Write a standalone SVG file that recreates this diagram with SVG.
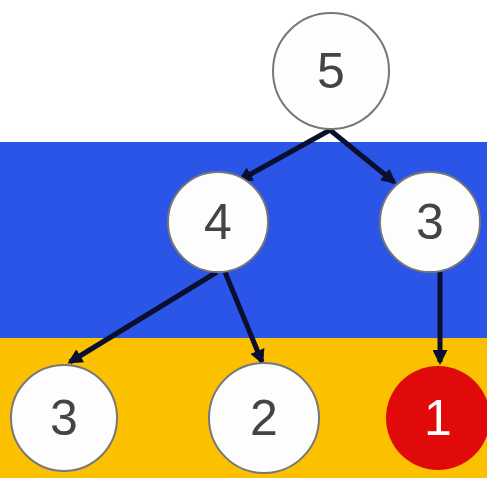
<svg xmlns="http://www.w3.org/2000/svg" width="487" height="478" viewBox="0 0 487 478">
<style>
.n{fill:#fdfdfd;stroke:#777;stroke-width:2}
.t{font-family:"Liberation Sans",Arial,sans-serif;font-size:50px;fill:#444;text-anchor:middle;dominant-baseline:central}
.e{stroke:#0a0f30;stroke-width:5;fill:none;marker-end:url(#a)}
</style>
<defs>
<marker id="a" viewBox="0 0 10 10" refX="8" refY="5" markerWidth="3" markerHeight="3" orient="auto">
<path d="M0,0L10,5L0,10z" fill="#0a0f30"/>
</marker>
</defs>
<rect x="0" y="0" width="487" height="142" fill="#fff"/>
<rect x="0" y="142" width="487" height="196" fill="#2b55e6"/>
<rect x="0" y="338" width="487" height="140" fill="#fbc000"/>
<g id="edges">
<path class="e" d="M330,130L240,180"/>
<path class="e" d="M330,130L394,182"/>
<path class="e" d="M217,272L70,362"/>
<path class="e" d="M225,272L262,362"/>
<path class="e" d="M440,272L440,362"/>
</g>
<g id="n5"><circle class="n" cx="331" cy="71" r="58"/><text class="t" x="331" y="71">5</text></g>
<g id="n4"><circle class="n" cx="218" cy="222" r="50"/><text class="t" x="218" y="222">4</text></g>
<g id="n3a"><circle class="n" cx="430" cy="222" r="50"/><text class="t" x="430" y="222">3</text></g>
<g id="n3b"><circle class="n" cx="64" cy="418" r="53"/><text class="t" x="64" y="418">3</text></g>
<g id="n2"><circle class="n" cx="264" cy="418" r="55"/><text class="t" x="264" y="418">2</text></g>
<g id="n1"><circle cx="438" cy="418" r="52" fill="#e00a0a"/><text class="t" x="438" y="418" style="fill:#fff">1</text></g>
</svg>
